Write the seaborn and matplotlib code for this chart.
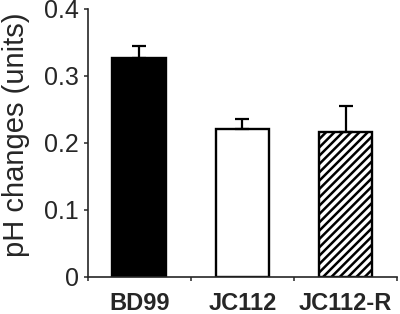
import matplotlib
matplotlib.use('Agg')
import matplotlib.pyplot as plt
import seaborn as sns

strains = ['BD99', 'JC112', 'JC112-R']
ph_change = [0.327, 0.220, 0.2155]
ph_err = [0.018, 0.0155, 0.039]
bar_colors = ['black', 'white', 'white']

sns.set_style('ticks')
plt.rcParams['font.family'] = ['Liberation Sans', 'DejaVu Sans']
plt.rcParams['hatch.linewidth'] = 1.8

fig = plt.figure(figsize=(4.0, 3.14), dpi=100)
ax = fig.add_axes([0.219, 0.1194, 0.774, 0.852])

sns.barplot(x=strains, y=ph_change, hue=strains, palette=bar_colors,
            edgecolor='black', linewidth=1.7, width=0.52, legend=False, ax=ax)
ax.patches[2].set_hatch('////')

ax.errorbar(range(len(strains)), ph_change, yerr=[[0] * 3, ph_err],
            fmt='none', ecolor='black', elinewidth=1.6, capsize=5, capthick=1.6)

ax.set_xlim(-0.5, 2.5)
ax.set_ylim(0, 0.4)
ax.set_yticks([0, 0.1, 0.2, 0.3, 0.4])
ax.set_yticklabels(['0', '0.1', '0.2', '0.3', '0.4'], fontsize=18)
ax.set_ylabel('pH changes (units)', fontsize=21)
ax.yaxis.set_label_coords(-0.185, 0.53)

ax.set_xticks([0, 1, 2])
ax.set_xticklabels(strains, fontsize=17, fontweight='bold')
ax.tick_params(axis='x', which='major', length=0, pad=11)
ax.set_xticks([-0.5, 0.5, 1.5, 2.5], minor=True)
ax.tick_params(axis='x', which='minor', length=3, width=1.1, direction='out')
ax.tick_params(axis='y', length=3, width=1.1, pad=3.5)

for s in ['top', 'right']:
    ax.spines[s].set_visible(False)
for s in ['left', 'bottom']:
    ax.spines[s].set_linewidth(1.2)

fig.savefig('out.png', dpi=100)
